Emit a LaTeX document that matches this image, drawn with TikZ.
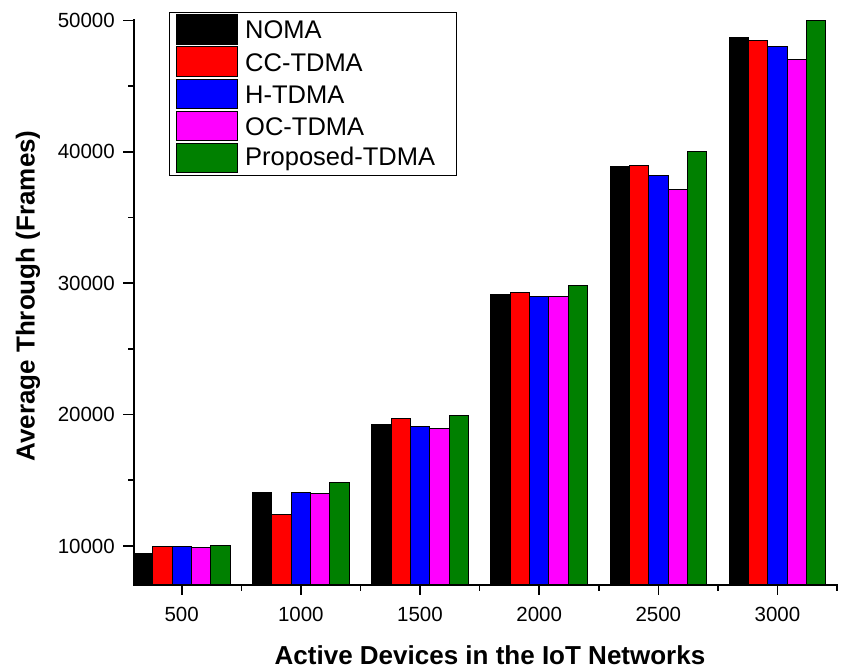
\documentclass[tikz,border=0pt]{standalone}
\usepackage{fontspec}
\setmainfont{Liberation Sans}
\definecolor{barc1}{RGB}{0,0,0}
\definecolor{barc2}{RGB}{255,0,0}
\definecolor{barc3}{RGB}{0,0,255}
\definecolor{barc4}{RGB}{255,0,255}
\definecolor{barc5}{RGB}{0,128,0}
\tikzset{
  axisline/.style={line width=2pt, line cap=rect, line join=miter},
  tickline/.style={line width=1.6pt},
  barbox/.style={draw=black, line width=0.9pt},
  ticklabel/.style={font=\fontsize{20.5}{24}\selectfont, inner sep=0pt},
  axislabel/.style={font=\fontsize{26}{30}\selectfont\bfseries, inner sep=0pt},
  legendtext/.style={font=\fontsize{25.5}{30}\selectfont, inner sep=0pt, anchor=west},
}
% value in thousands -> vertical position (axis from 7 to 50 thousand)
\newcommand{\yv}[1]{585.4-(#1-7)*13.14}
\begin{document}
\begin{tikzpicture}[x=1pt,y=-1pt]
\useasboundingbox (0,0) rectangle (843,669);

% bars (values in thousands): groups for 500 ... 3000 devices, five schemes each
\foreach \vals [count=\g] in {
  {9.4,10.0,10.0,9.9,10.05},
  {14.1,12.4,14.1,14.0,14.85},
  {19.25,19.7,19.08,18.95,19.95},
  {29.15,29.3,29.0,29.0,29.85},
  {38.9,38.95,38.2,37.1,40.0},
  {48.7,48.5,48.0,47.0,50.0}} {
  \foreach \v [count=\b] in \vals {
    \pgfmathsetmacro\xl{181.7+(\g-1)*119.15+(\b-3.5)*19.3}
    \pgfmathsetmacro\yt{\yv{\v}}
    \filldraw[barbox, fill=barc\b] (\xl,585.4) rectangle (\xl+19.3,\yt);
  }
}

% axes
\coordinate (ytop) at (134,{\yv{50}});
\coordinate (origin) at (134,585.4);
\coordinate (xend) at (837.3,585.4);
\draw[axisline] (ytop) -- (origin) -- (xend);

% y ticks and labels
\foreach \t in {10,20,30,40,50} {
  \draw[tickline] (123,{\yv{\t}}) -- (134,{\yv{\t}});
  \node[ticklabel, anchor=east] (yl\t) at (115,{\yv{\t}}) {\t000};
}
\foreach \t in {15,25,35,45} {
  \draw[tickline] (128,{\yv{\t}}) -- (134,{\yv{\t}});
}

% x ticks and labels
\foreach \lab [count=\k] in {500,1000,1500,2000,2500,3000} {
  \pgfmathsetmacro\xc{181.7+(\k-1)*119.15}
  \draw[tickline] (\xc,585.4) -- (\xc,595);
  \node[ticklabel] (xl\lab) at (\xc,614) {\lab};
  \draw[tickline] (\xc+59.6,585.4) -- (\xc+59.6,591);
}

% axis titles
\node[axislabel] (xtitle) at (490,655) {Active Devices in the IoT Networks};
\node[axislabel, rotate=90] (ytitle) at (28,296) {Average Through (Frames)};

% legend
\draw[line width=0.9pt] (169,12) rectangle (456,175);
\foreach \name [count=\i] in {NOMA,CC-TDMA,H-TDMA,OC-TDMA,Proposed-TDMA} {
  \pgfmathsetmacro\ry{14.7+(\i-1)*32.15}
  \filldraw[barbox, fill=barc\i] (176,\ry) rectangle (237.3,\ry+29.3);
  \node[legendtext] (leg\i) at (245,\ry+15.5) {\name};
}
\end{tikzpicture}
\end{document}
